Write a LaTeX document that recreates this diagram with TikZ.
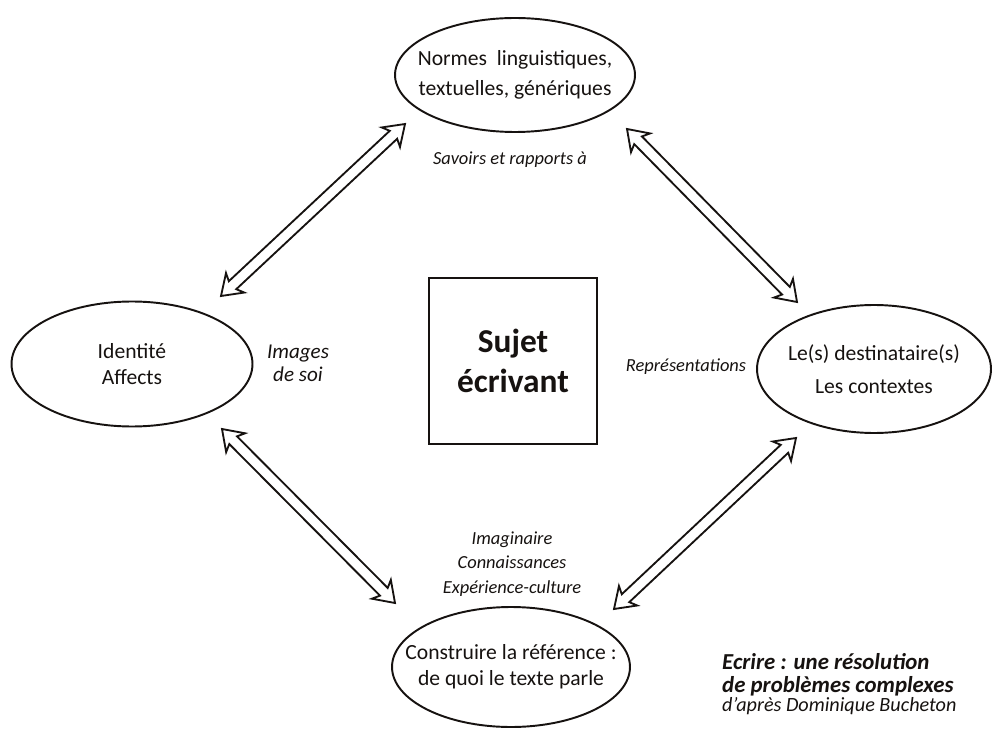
\documentclass[tikz,border=0pt]{standalone}
\usepackage{fontspec}
\setmainfont{Carlito}
\usepackage{tikz}
\usetikzlibrary{positioning}
\usetikzlibrary{shapes.geometric}
\usetikzlibrary{calc}
\usepackage{color}
\definecolor{ink}{RGB}{22,18,16}

\newcommand{\dblarrow}[2]{%
 \draw[fleche] (#1)
  -- ($(#1)!11pt!(#2)!7.6pt!90:(#2)$)
  -- ($(#1)!9pt!(#2)!3.1pt!90:(#2)$)
  -- ($(#2)!9pt!(#1)!3.1pt!-90:(#1)$)
  -- ($(#2)!11pt!(#1)!7.6pt!-90:(#1)$)
  -- (#2)
  -- ($(#2)!11pt!(#1)!7.6pt!90:(#1)$)
  -- ($(#2)!9pt!(#1)!3.1pt!90:(#1)$)
  -- ($(#1)!9pt!(#2)!3.1pt!-90:(#2)$)
  -- ($(#1)!11pt!(#2)!7.6pt!-90:(#2)$)
  -- cycle;}

\begin{document}
\begin{tikzpicture}[x=0.02cm,y=-0.02cm,
 bulle/.style={ellipse,draw=ink,line width=1.1pt,align=center,inner xsep=-16pt,inner ysep=-8pt,text=ink,font=\fontsize{12.3}{15}\selectfont},
 note/.style={align=center,text=ink,font=\fontsize{10.5}{14}\selectfont\itshape},
 fleche/.style={draw=ink,line width=1.05pt,fill=white}]
 \useasboundingbox (0,0) rectangle (993,729);
 \node[bulle,minimum width=4.8cm,minimum height=2.28cm] (normes) at (515,75) {Normes~ linguistiques,\\[2pt] textuelles, génériques};
 \node[bulle,minimum width=4.82cm,minimum height=2.5cm] (identite) at (132,364) {Identité\\ Affects};
 \node[bulle,minimum width=4.68cm,minimum height=2.56cm] (dest) at (874,369) {Le(s) destinataire(s)\\[4pt] Les contextes};
 \node[bulle,minimum width=4.76cm,minimum height=2.4cm] (ref) at (511,667) {Construire la référence :\\ de quoi le texte parle};
 \node[draw=ink,line width=1.3pt,minimum width=3.36cm,minimum height=3.32cm,align=center,text=ink,font=\fontsize{19}{23}\selectfont\bfseries] (sujet) at (513,361) {Sujet\\ écrivant};
 \node[note] (savoirs) at (510,160) {Savoirs et rapports à};
 \node[note,font=\fontsize{12}{13}\selectfont\itshape] (images) at (298,363) {Images\\ de soi};
 \node[note] (repr) at (686,367) {Représentations};
 \node[note] (imag) at (512,564) {Imaginaire\\ Connaissances\\ Expérience-culture};
 \node[anchor=west,align=left,text=ink,font=\fontsize{13}{13}\selectfont\bfseries\itshape] (titre) at (716,684) {Ecrire : une résolution\\ de problèmes complexes\\[-2pt] \fontsize{11.5}{12}\selectfont\mdseries d'après Dominique Bucheton};
 \coordinate (a1) at (221,296);
 \coordinate (a2) at (405,124);
 \coordinate (b1) at (627,129);
 \coordinate (b2) at (797,302);
 \coordinate (c1) at (222,429);
 \coordinate (c2) at (395,603);
 \coordinate (d1) at (614,609);
 \coordinate (d2) at (796,438);
 \foreach \p/\q in {a1/a2,b1/b2,c1/c2,d1/d2}
  \dblarrow{\p}{\q};
\end{tikzpicture}
\end{document}
